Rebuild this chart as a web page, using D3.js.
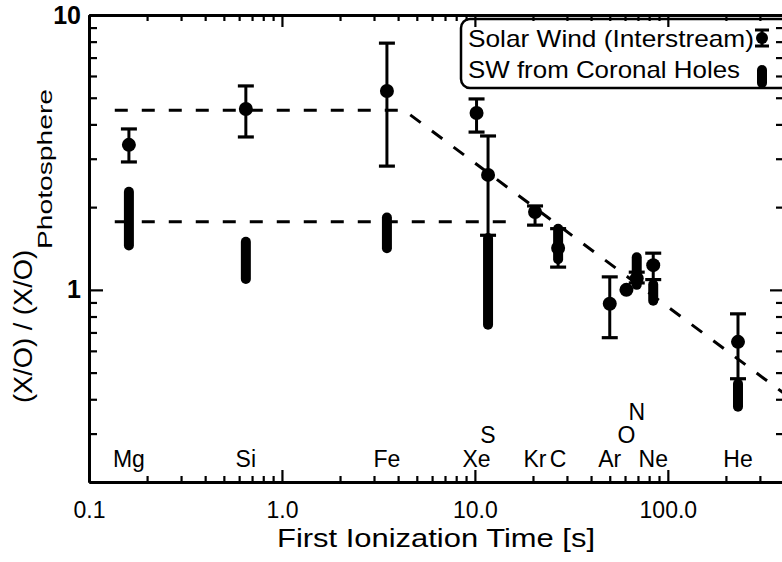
<!DOCTYPE html>
<html><head><meta charset="utf-8">
<script src="https://cdn.jsdelivr.net/npm/d3@7"></script>
<style>
body{margin:0;background:#fff;}
svg text{font-family:"Liberation Sans", Arial, Helvetica, sans-serif; fill:#000;}
</style></head><body>
<svg id="chart" width="782" height="562"></svg>
<script>
// ---- data ----
const elements = ["Mg","Si","Fe","Xe","S","Kr","C","Ar","O","N","Ne","He"];
const fipTime  = [0.161,0.65,3.5,10.2,11.7,20.5,27,50,61,69,84,231];
const swValue  = [3.37,4.55,5.29,4.40,2.62,1.92,1.42,0.89,1.00,1.10,1.23,0.647];
const swLow    = [2.92,3.60,2.82,3.75,1.58,1.72,1.21,0.67,1.00,1.06,1.09,0.475];
const swHigh   = [3.85,5.52,7.90,4.95,3.63,2.02,1.67,1.115,1.00,1.16,1.36,0.818];
const chElements = ["Mg","Si","Fe","S","C","N","Ne","He"];
const chLow    = [1.39,1.05,1.36,0.716,1.24,1.00,0.875,0.36];
const chHigh   = [2.37,1.56,1.91,1.61,1.74,1.37,1.09,0.475];
const upperTrendX = [0.136,4.3,400];
const upperTrendY = [4.5,4.5,0.42];
const lowerTrendX = [0.136,15.2];
const lowerTrendY = [1.77,1.77];
const xMajorTicks = [0.1,1,10,100];
const xTickLabels = ["0.1","1.0","10.0","100.0"];
const yMajorTicks = [1,10];
const yTickLabels = ["1","10"];
const legendLabels = ["Solar Wind (Interstream)","SW from Coronal Holes"];
const xTitle = "First Ionization Time [s]";
const yTitleMain = "(X/O) / (X/O)";
const yTitleSub = "Photosphere";

// ---- scales ----
const svg = d3.select("#chart");
const x = d3.scaleLog().domain([0.1,400]).range([89,784]);
const y = d3.scaleLog().domain([0.2,10]).range([482,15]);

const xMinor = [];
[0.1,1,10,100].forEach(d=>{for(let k=2;k<=9;k++){const v=d*k; if(v<=400) xMinor.push(v);}});
const yMinor = [];
[0.1,1].forEach(d=>{for(let k=2;k<=9;k++){const v=d*k; if(v>0.2 && v<10) yMinor.push(v);}});

function styleAxis(g){
  g.select(".domain").attr("stroke","#000").attr("stroke-width",3);
  g.selectAll(".tick line").attr("stroke","#000").attr("stroke-width",2.2);
  g.attr("font-family",null).attr("font-size",null);
}

let g;
// bottom
g = svg.append("g").attr("transform","translate(0,482)")
  .call(d3.axisBottom(x).tickValues(xMinor).tickSizeInner(-6).tickSizeOuter(0).tickFormat(""));
styleAxis(g);
g = svg.append("g").attr("transform","translate(0,482)")
  .call(d3.axisBottom(x).tickValues(xMajorTicks).tickSizeInner(-12).tickSizeOuter(0).tickPadding(20)
    .tickFormat((d,i)=>xTickLabels[i]));
styleAxis(g);
g.selectAll("text").style("font-size","23px");
// top
g = svg.append("g").attr("transform","translate(0,15)")
  .call(d3.axisTop(x).tickValues(xMinor).tickSizeInner(-6).tickSizeOuter(0).tickFormat(""));
styleAxis(g);
g = svg.append("g").attr("transform","translate(0,15)")
  .call(d3.axisTop(x).tickValues(xMajorTicks).tickSizeInner(-12).tickSizeOuter(0).tickFormat(""));
styleAxis(g);
// left
g = svg.append("g").attr("transform","translate(89,0)")
  .call(d3.axisLeft(y).tickValues(yMinor).tickSizeInner(-8).tickSizeOuter(0).tickFormat(""));
styleAxis(g);
g = svg.append("g").attr("transform","translate(89,0)")
  .call(d3.axisLeft(y).tickValues(yMajorTicks).tickSizeInner(-14).tickSizeOuter(0).tickPadding(8)
    .tickFormat((d,i)=>yTickLabels[i]));
styleAxis(g);
g.selectAll("text").style("font-size","25px").style("font-weight","bold");
// right
g = svg.append("g").attr("transform","translate(784,0)")
  .call(d3.axisRight(y).tickValues(yMinor).tickSizeInner(-8).tickSizeOuter(0).tickFormat(""));
styleAxis(g);
g = svg.append("g").attr("transform","translate(784,0)")
  .call(d3.axisRight(y).tickValues(yMajorTicks).tickSizeInner(-14).tickSizeOuter(0).tickFormat(""));
styleAxis(g);

// ---- dashed trend lines ----
const line = d3.line().x(d=>x(d[0])).y(d=>y(d[1]));
[[upperTrendX,upperTrendY],[lowerTrendX,lowerTrendY]].forEach(([xs,ys])=>{
  svg.append("path").datum(xs.map((v,i)=>[v,ys[i]]))
    .attr("d",line).attr("fill","none").attr("stroke","#000")
    .attr("stroke-width",3).attr("stroke-dasharray","13,14");
});

// ---- solar wind points with error bars ----
const sw = elements.map((e,i)=>({e, t:fipTime[i], v:swValue[i], lo:swLow[i], hi:swHigh[i]}));
const capW = 8;
const eb = svg.append("g");
sw.filter(d=>d.hi>d.lo).forEach(d=>{
  const cx = x(d.t);
  eb.append("line").attr("x1",cx).attr("x2",cx).attr("y1",y(d.hi)).attr("y2",y(d.lo))
    .attr("stroke","#000").attr("stroke-width",3);
  [d.hi,d.lo].forEach(v=>{
    eb.append("line").attr("x1",cx-capW).attr("x2",cx+capW).attr("y1",y(v)).attr("y2",y(v))
      .attr("stroke","#000").attr("stroke-width",3.2);
  });
});
eb.selectAll("circle").data(sw).join("circle")
  .attr("cx",d=>x(d.t)).attr("cy",d=>y(d.v)).attr("r",7).attr("fill","#000");

// ---- coronal hole bars ----
const ch = chElements.map((e,i)=>({t:fipTime[elements.indexOf(e)], lo:chLow[i], hi:chHigh[i]}));
svg.append("g").selectAll("rect").data(ch).join("rect")
  .attr("x",d=>x(d.t)-5).attr("width",10)
  .attr("y",d=>y(d.hi)).attr("height",d=>y(d.lo)-y(d.hi))
  .attr("rx",5).attr("ry",5).attr("fill","#000");

// ---- element labels ----
const level = {S:1, O:1, N:2};
const levelY = [467,443,420];
svg.append("g").selectAll("text").data(sw).join("text")
  .attr("x",d=>x(d.t)).attr("y",d=>levelY[level[d.e]||0])
  .attr("text-anchor","middle").style("font-size","23px").text(d=>d.e);

// ---- legend ----
svg.append("rect").attr("x",461).attr("y",19).attr("width",330).attr("height",69)
  .attr("rx",9).attr("fill","none").attr("stroke","#000").attr("stroke-width",2.5);
svg.append("text").attr("x",468).attr("y",47).style("font-size","24px")
  .attr("textLength",286).attr("lengthAdjust","spacingAndGlyphs").text(legendLabels[0]);
svg.append("text").attr("x",468).attr("y",78).style("font-size","24px")
  .attr("textLength",272).attr("lengthAdjust","spacingAndGlyphs").text(legendLabels[1]);
const lx = 762;
svg.append("line").attr("x1",lx).attr("x2",lx).attr("y1",30).attr("y2",46).attr("stroke","#000").attr("stroke-width",3);
[30,46].forEach(v=>svg.append("line").attr("x1",lx-7).attr("x2",lx+7).attr("y1",v).attr("y2",v).attr("stroke","#000").attr("stroke-width",3));
svg.append("circle").attr("cx",lx).attr("cy",38).attr("r",6).attr("fill","#000");
svg.append("rect").attr("x",lx-5).attr("y",65).attr("width",10).attr("height",23).attr("rx",5).attr("fill","#000");

// ---- axis titles ----
svg.append("text").attr("x",277).attr("y",547).style("font-size","26px")
  .attr("textLength",318).attr("lengthAdjust","spacingAndGlyphs").text(xTitle);
svg.append("text").attr("transform","translate(32,403) rotate(-90)").style("font-size","26px")
  .attr("textLength",153).attr("lengthAdjust","spacingAndGlyphs").text(yTitleMain);
svg.append("text").attr("transform","translate(52,249) rotate(-90)").style("font-size","21px")
  .attr("textLength",160).attr("lengthAdjust","spacingAndGlyphs").text(yTitleSub);
</script>
</body></html>
